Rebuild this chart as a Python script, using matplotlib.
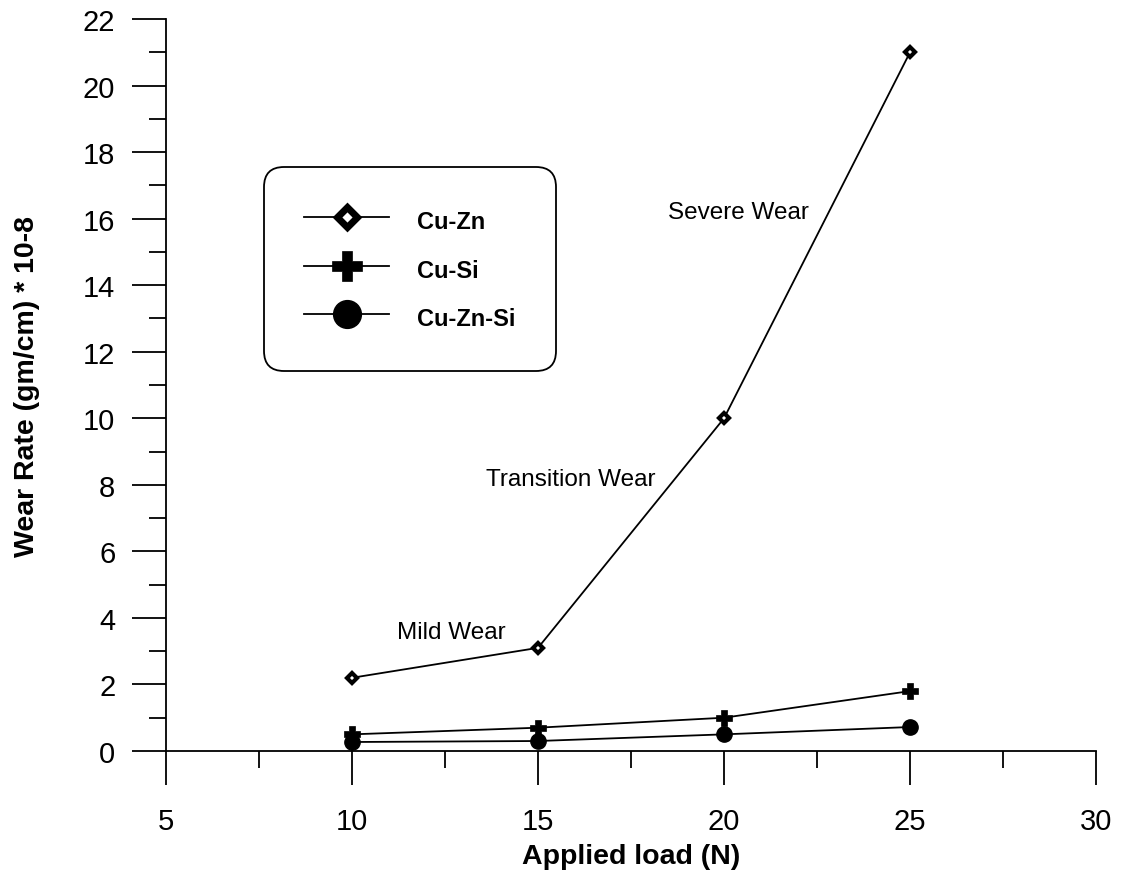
import numpy as np
import matplotlib
matplotlib.use("Agg")
import matplotlib.pyplot as plt
from matplotlib.lines import Line2D
from matplotlib.ticker import MultipleLocator

plt.rcParams['font.family'] = ['Liberation Sans', 'DejaVu Sans']

# data
load = [10, 15, 20, 25]
cu_zn = [2.2, 3.1, 10.0, 21.0]
cu_si = [0.5, 0.7, 1.0, 1.8]
cu_zn_si = [0.27, 0.3, 0.5, 0.72]
series_names = ["Cu-Zn", "Cu-Si", "Cu-Zn-Si"]

# text notes on the curve (x, y, text)
notes = [(12.66, 3.58, "Mild Wear"),
         (15.89, 8.18, "Transition Wear"),
         (20.39, 16.2, "Severe Wear")]

fig = plt.figure(figsize=(11.21, 8.79), dpi=100)
ax = fig.add_axes([0.1481, 0.1445, 0.8296, 0.8327])

ax.plot(load, cu_zn, color='black', lw=1.3, marker='D', ms=5.5,
        mfc='white', mec='black', mew=3.0, clip_on=False, zorder=3)
ax.plot(load, cu_si, color='black', lw=1.3, marker='P', ms=12,
        mfc='black', mec='black', mew=0.5, clip_on=False, zorder=3)
ax.plot(load, cu_zn_si, color='black', lw=1.3, marker='o', ms=11,
        mfc='black', mec='black', clip_on=False, zorder=3)

for x, y, t in notes:
    ax.text(x, y, t, fontsize=17.5, ha='center', va='center')

ax.set_xlim(5, 30)
ax.set_ylim(0, 22)
ax.xaxis.set_major_locator(MultipleLocator(5))
ax.xaxis.set_minor_locator(MultipleLocator(2.5))
ax.yaxis.set_major_locator(MultipleLocator(2))
ax.yaxis.set_minor_locator(MultipleLocator(1))

for s in ['top', 'right']:
    ax.spines[s].set_visible(False)
for s in ['left', 'bottom']:
    ax.spines[s].set_linewidth(1.3)

ax.tick_params(which='major', direction='out', length=24.5, width=1.3,
               labelsize=21)
ax.tick_params(which='minor', direction='out', length=12, width=1.3)
ax.tick_params(axis='x', which='major', pad=15.5)
ax.tick_params(axis='y', which='major', pad=12)

ax.set_xlabel("Applied load (N)", fontsize=20.5, fontweight='bold', labelpad=6)
ax.set_ylabel("Wear Rate (gm/cm) * 10-8", fontsize=20.5, fontweight='bold',
              labelpad=31)

handles = [
    Line2D([], [], color='black', lw=1.3, marker='D', ms=10.5, mfc='white',
           mec='black', mew=5),
    Line2D([], [], color='black', lw=1.3, marker='P', ms=22, mfc='black',
           mec='black', mew=0.5),
    Line2D([], [], color='black', lw=1.3, marker='o', ms=20, mfc='black',
           mec='black'),
]
leg = ax.legend(handles, series_names, loc='upper left',
                bbox_to_anchor=(0.1054, 0.7985), borderaxespad=0,
                prop={'size': 17, 'weight': 'bold'}, borderpad=1.7,
                handlelength=3.6, handleheight=1.4, handletextpad=1.19,
                labelspacing=0.9, fancybox=True, framealpha=1,
                edgecolor='black')
frame = leg.get_frame()
frame.set_linewidth(1.3)
frame.set_boxstyle('round', pad=0, rounding_size=0.85)

fig.savefig("out.png", dpi=100, facecolor='white')
